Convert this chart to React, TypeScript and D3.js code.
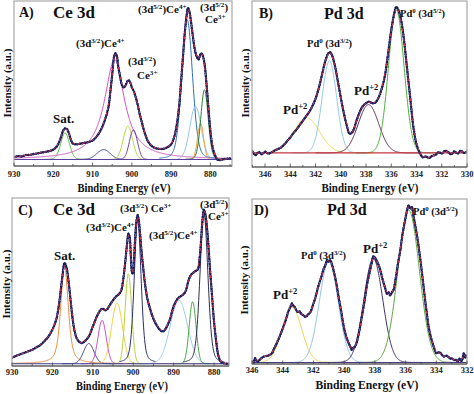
import { useEffect, useRef } from "react";
import * as d3 from "d3";

// ---------- A) Ce 3d (top left) ----------
const ceA_energy = [930, 929, 928, 927, 926, 925, 924, 923, 922, 921, 920, 919, 918, 917.5, 917, 916.5, 916, 915.5, 915, 914, 913, 912, 911, 910, 909, 908, 907, 906, 905.5, 905, 904.5, 904.2, 903.8, 903.5, 903, 902.5, 902, 901.5, 901, 900.7, 900.3, 900, 899.5, 899, 898.5, 898, 897.5, 897, 896.5, 896, 895, 894, 893, 892, 891, 890, 889.5, 889, 888.5, 888, 887.5, 887, 886.5, 886, 885.7, 885.3, 885, 884.5, 884, 883.5, 883, 882.6, 882.3, 882, 881.5, 881, 880.5, 880, 879.5, 879, 878.5, 878, 877, 876, 875];
const ceA_counts = [1.5, 2.2, 2, 2.9, 3, 3.6, 4, 4.6, 5, 5.6, 6.5, 9, 15, 19, 20.5, 20, 17, 13, 10.5, 10, 10.5, 11, 11.5, 12.5, 15, 19, 25, 34, 44, 56, 68, 70, 68, 62, 55, 49, 47.5, 49.5, 52, 52, 50, 47.5, 45, 41, 36, 30, 25, 20, 16, 12.5, 9, 7.5, 7, 7, 8, 10, 12.5, 17, 24, 34, 50, 67, 84, 96, 100, 97, 92, 82, 73, 68, 66, 69, 70, 69, 63, 50, 34, 19, 9, 4, 1, -0.4, 0, 0.4, 0.6];
const ceA_center = [917, 907.2, 904.4, 901, 899.6, 885.9, 883.8, 882.5, 881.5];
const ceA_height = [17.5, 6.5, 66, 22, 19.5, 92, 35, 24, 46];
const ceA_fwhm = [2.6, 4, 6.2, 2.8, 2.4, 3.2, 3.4, 1.8, 2.2];
const ceA_lorentz = [0.1, 0, 1, 0, 0, 0.2, 0, 0, 0.1];

// ---------- B) Pd 3d (top right) ----------
const pdB_energy = [347, 346.75, 346.5, 346.25, 346, 345.75, 345.5, 345.25, 345, 344.75, 344.5, 344.25, 344, 343.75, 343.5, 343.25, 343, 342.75, 342.5, 342.25, 342, 341.75, 341.5, 341.25, 341, 340.85, 340.7, 340.5, 340.25, 340, 339.75, 339.5, 339.3, 339.1, 339, 338.75, 338.5, 338.25, 338, 337.75, 337.5, 337.25, 337, 336.75, 336.5, 336.25, 336, 335.75, 335.6, 335.4, 335.2, 335, 334.75, 334.5, 334.25, 334, 333.75, 333.5, 333.25, 333, 332.75, 332.5, 332.25, 332, 331.75, 331.5, 331.25, 331, 330.75, 330.5, 330.25, 330];
const pdB_counts = [1, -1.5, 0.5, -1, 0.8, -0.5, 0.3, 1.5, 2.5, 3.5, 5.5, 8, 10.5, 13.5, 16, 19, 22, 25, 28, 32, 37, 44, 53, 62, 68, 69, 67, 61, 50, 38, 27, 18, 13, 14, 15.5, 22, 28, 32, 34, 35, 34, 34.5, 38, 44, 53, 68, 84, 96, 100, 97, 90, 78, 58, 38, 18, 6, 0, -3, -2.5, -3.5, -2, -1.5, 0.5, -0.5, 1.5, 0.5, -1, 1, -0.5, 1.5, 0, 0.8];
const pdB_center = [342.7, 340.9, 337.8, 335.6];
const pdB_height = [24, 63, 33, 98];
const pdB_fwhm = [2.4, 1.35, 1.9, 1.45];
const pdB_lorentz = [0, 0, 0, 0];

// ---------- C) Ce 3d (bottom left) ----------
const ceC_energy = [930, 929, 928, 927, 926, 925, 924, 923, 922, 921, 920, 919.5, 919, 918.5, 918, 917.5, 917, 916.5, 916, 915.5, 915, 914.5, 914, 913.5, 913, 912.5, 912, 911, 910, 909, 908.5, 908, 907.5, 907, 906.5, 906, 905, 904, 903.5, 903, 902.5, 902, 901.5, 901.2, 900.9, 900.6, 900.3, 900.1, 899.8, 899.5, 899.2, 898.9, 898.6, 898.3, 898, 897.5, 897, 896.5, 896, 895, 894, 893, 892.5, 892, 891, 890, 889, 888, 887.5, 887, 886.5, 886, 885.5, 885, 884.5, 884, 883.5, 883, 882.7, 882.5, 882.2, 882, 881.5, 881, 880.5, 880, 879.5, 879, 878.5, 878, 877, 876.3];
const ceC_counts = [3.8, 5, 6, 7, 8, 9, 10.5, 12, 14.5, 17.5, 22, 25, 29, 36, 46, 57, 65, 62, 53, 41, 29, 21, 16.5, 14.5, 13.5, 13.5, 14.5, 17.5, 24, 30.5, 33, 35, 35.5, 34.5, 35, 37, 41, 44, 45, 47, 54, 65, 78, 84, 82, 70, 59, 58, 68, 82, 92, 96, 92, 84, 74, 61, 50, 42, 37, 29, 24, 21, 21, 22.5, 28, 37, 42, 44, 45, 47, 52, 56, 58, 59, 60, 61, 70, 88, 97, 99.5, 97, 94, 80, 61, 44, 27, 15, 6, 2, 0.6, 0, 0];
const ceC_center = [917, 911, 907.7, 904, 901.2, 898.9, 888.7, 885.3, 882.5];
const ceC_height = [63, 13, 28, 39, 58, 93, 41, 40, 97];
const ceC_fwhm = [2.2, 3, 2.4, 3.2, 1.9, 2, 5, 2, 2.3];
const ceC_lorentz = [0.55, 0, 0, 0, 0, 0.3, 0, 0, 0.25];

// ---------- D) Pd 3d (bottom right) ----------
const pdD_energy = [346, 345.9, 345.8, 345.65, 345.5, 345.35, 345.2, 345, 344.85, 344.7, 344.6, 344.5, 344.35, 344.2, 344.1, 344, 343.8, 343.65, 343.5, 343.4, 343.3, 343.2, 343.1, 343, 342.9, 342.8, 342.65, 342.5, 342.35, 342.2, 342.1, 342, 341.85, 341.7, 341.5, 341.35, 341.2, 341.1, 341, 340.9, 340.8, 340.65, 340.5, 340.35, 340.2, 340.1, 340, 339.85, 339.7, 339.6, 339.5, 339.4, 339.3, 339.2, 339.1, 339, 338.85, 338.7, 338.5, 338.35, 338.2, 338.1, 338, 337.85, 337.7, 337.5, 337.35, 337.2, 337.1, 337, 336.9, 336.8, 336.65, 336.5, 336.35, 336.2, 336.1, 336, 335.9, 335.8, 335.7, 335.6, 335.5, 335.35, 335.2, 335.1, 335, 334.85, 334.7, 334.6, 334.5, 334.35, 334.2, 334.1, 334, 333.8, 333.6, 333.5, 333.3, 333.1, 333, 332.85, 332.7, 332.6, 332.5, 332.35, 332.2, 332.1, 332];
const pdD_counts = [0.6, -0.5, 2.7, 0.5, 1.7, 3, 3.8, 4.2, 4.8, 5.9, 8, 10, 13, 16.4, 19, 21.6, 27, 32, 35.3, 37.5, 36, 35, 33, 32, 32.5, 31, 30, 29, 30.5, 32, 34.5, 37.4, 42, 47.9, 54, 59, 62.6, 65.5, 64, 65, 62.6, 57, 50, 41, 33, 27, 21.6, 16, 12.2, 10, 8, 9.5, 10, 12.2, 16, 20.6, 29, 37.4, 50, 57, 63.6, 67.5, 66.8, 64, 60.5, 53, 48, 43.7, 44.5, 42.6, 44.5, 45.8, 53, 62.6, 71, 81.5, 87, 92, 97, 100, 98, 99, 94, 86, 77.3, 70, 62.6, 50, 37.4, 30, 22.7, 16, 11, 8, 5.9, 6.5, 4.5, 3.8, 4.2, 2.5, 2.7, 1.5, 1.7, 0.5, 2.3, 1, 5.9, 3, 4.8];
const pdD_center = [343.4, 341.0, 338.1, 335.8];
const pdD_height = [35, 64, 66, 97];
const pdD_fwhm = [1.5, 1.45, 1.45, 1.65];
const pdD_lorentz = [0, 0, 0, 0];

// tick values
const ceTicks = [930, 920, 910, 900, 890, 880];
const pdTicksB = [346, 344, 342, 340, 338, 336, 334, 332, 330];
const pdTicksD = [346, 344, 342, 340, 338, 336, 334, 332];

type Seg = [string, boolean?];
type Label = { x: number; y: number; size: number; segs: Seg[] };

// pseudo-Voigt line shape of a fitted component
const voigt = (e: number, c: number, h: number, w: number, eta: number) => {
  const t = (e - c) / w;
  return h * (eta / (1 + 4 * t * t) + (1 - eta) * Math.exp(-4 * Math.LN2 * t * t));
};

const serif = "'Liberation Serif', 'Times New Roman', serif";

const panels = [
  {
    id: "a", left: 14, right: 232, top: 1, bottom: 166,
    xDomain: [930, 874.5], yDomain: [-4.3, 104.5],
    ticks: ceTicks, minor: 5, tickY: 177,
    energy: ceA_energy, counts: ceA_counts,
    center: ceA_center, height: ceA_height, fwhm: ceA_fwhm, lorentz: ceA_lorentz,
    colors: ["#5cbb4c", "#3b3f8f", "#d24fc0", "#b9d53c", "#6b3fa3", "#2f6fb8", "#8cc6ea", "#f2a33a", "#2f7f3a"],
    baseColor: "#5a3fa0",
    yLabel: { x: 7, y: 83 }, xLabel: { x: 124, y: 192, w: 93 },
    labels: [
      { x: 19, y: 17, size: 14, segs: [["A)"]] },
      { x: 53, y: 18, size: 17, segs: [["Ce 3d"]] },
      { x: 76, y: 47, size: 11, segs: [["(3d"], ["3/2", true], [")Ce"], ["4+", true]] },
      { x: 128, y: 65, size: 11, segs: [["(3d"], ["3/2", true], [")"]] },
      { x: 137, y: 79, size: 11, segs: [["Ce"], ["3+", true]] },
      { x: 138, y: 13, size: 11, segs: [["(3d"], ["5/2", true], [")Ce"], ["4+", true]] },
      { x: 200, y: 11, size: 11, segs: [["(3d"], ["5/2", true], [")"]] },
      { x: 205, y: 23, size: 11, segs: [["Ce"], ["3+", true]] },
      { x: 53, y: 123, size: 13, segs: [["Sat."]] },
    ] as Label[],
  },
  {
    id: "b", left: 252, right: 467, top: 1, bottom: 167,
    xDomain: [347.03, 330], yDomain: [-9.7, 104],
    ticks: pdTicksB, minor: 1, tickY: 177,
    energy: pdB_energy, counts: pdB_counts,
    center: pdB_center, height: pdB_height, fwhm: pdB_fwhm, lorentz: pdB_lorentz,
    colors: ["#ecd84c", "#92c9ea", "#5a2a4c", "#4fae3c"],
    baseColor: "#c8343f",
    yLabel: { x: 245, y: 83 }, xLabel: { x: 370, y: 192, w: 97 },
    labels: [
      { x: 259, y: 18, size: 14, segs: [["B)"]] },
      { x: 324, y: 19, size: 16, segs: [["Pd 3d"]] },
      { x: 307, y: 47, size: 10.5, segs: [["Pd"], ["0", true], [" (3d"], ["3/2", true], [")"]] },
      { x: 283, y: 114, size: 13, segs: [["Pd"], ["+2", true]] },
      { x: 354, y: 95, size: 13, segs: [["Pd"], ["+2", true]] },
      { x: 400, y: 17, size: 10.5, segs: [["Pd"], ["0", true], [" (3d"], ["5/2", true], [")"]] },
    ] as Label[],
  },
  {
    id: "c", left: 12, right: 229, top: 198, bottom: 366,
    xDomain: [930, 876.3], yDomain: [-1.5, 107],
    ticks: ceTicks, minor: 5, tickY: 375,
    energy: ceC_energy, counts: ceC_counts,
    center: ceC_center, height: ceC_height, fwhm: ceC_fwhm, lorentz: ceC_lorentz,
    colors: ["#f08a3a", "#3b3f8f", "#c64fc0", "#f0d040", "#b6d43a", "#2a2f6a", "#9dcbee", "#4aa64a", "#2a2f50"],
    baseColor: "#3b3f8f",
    yLabel: { x: 6, y: 284 }, xLabel: { x: 122, y: 390, w: 92 },
    labels: [
      { x: 18, y: 215, size: 14, segs: [["C)"]] },
      { x: 53, y: 215, size: 17, segs: [["Ce 3d"]] },
      { x: 86, y: 231, size: 11, segs: [["(3d"], ["3/2", true], [")Ce"], ["4+", true]] },
      { x: 120, y: 212, size: 11, segs: [["(3d"], ["3/2", true], [") Ce"], ["3+", true]] },
      { x: 149, y: 239, size: 11, segs: [["(3d"], ["5/2", true], [")Ce"], ["4+", true]] },
      { x: 200, y: 208, size: 11, segs: [["(3d"], ["5/2", true], [")"]] },
      { x: 208, y: 220, size: 11, segs: [["Ce"], ["3+", true]] },
      { x: 54, y: 260, size: 13, segs: [["Sat."]] },
    ] as Label[],
  },
  {
    id: "d", left: 252, right: 467, top: 199, bottom: 364,
    xDomain: [346, 332], yDomain: [-1, 104],
    ticks: pdTicksD, minor: 1, tickY: 373,
    energy: pdD_energy, counts: pdD_counts,
    center: pdD_center, height: pdD_height, fwhm: pdD_fwhm, lorentz: pdD_lorentz,
    colors: ["#efd24a", "#8fc4e8", "#3a2f6a", "#5aa53c"],
    baseColor: "#4a3a80",
    yLabel: { x: 244, y: 280 }, xLabel: { x: 367, y: 389, w: 103 },
    labels: [
      { x: 254, y: 215, size: 14, segs: [["D)"]] },
      { x: 327, y: 215, size: 16, segs: [["Pd 3d"]] },
      { x: 301, y: 259, size: 10.5, segs: [["Pd"], ["0", true], [" (3d"], ["3/2", true], [")"]] },
      { x: 363, y: 253, size: 13, segs: [["Pd"], ["+2", true]] },
      { x: 273, y: 299, size: 13, segs: [["Pd"], ["+2", true]] },
      { x: 413, y: 215, size: 10.5, segs: [["Pd"], ["0", true], [" (3d"], ["5/2", true], [")"]] },
    ] as Label[],
  },
];

const App = () => {
  const svgRef = useRef<SVGSVGElement>(null);

  useEffect(() => {
    const svg = d3.select(svgRef.current);
    svg.selectAll("*").remove();

    panels.forEach((p) => {
      const x = d3.scaleLinear().domain(p.xDomain).range([p.left, p.right]);
      const y = d3.scaleLinear().domain(p.yDomain).range([p.bottom, p.top]);
      const lo = Math.min(p.xDomain[0], p.xDomain[1]);
      const hi = Math.max(p.xDomain[0], p.xDomain[1]);

      svg.append("clipPath").attr("id", "clip-" + p.id)
        .append("rect")
        .attr("x", p.left).attr("y", p.top)
        .attr("width", p.right - p.left).attr("height", p.bottom - p.top);

      const g = svg.append("g").attr("clip-path", `url(#clip-${p.id})`);
      const line = d3.line<[number, number]>().x((d) => x(d[0])).y((d) => y(d[1]));

      // fitted components
      const step = (hi - lo) / 600;
      p.center.forEach((c, i) => {
        const w = p.fwhm[i];
        const span = p.lorentz[i] > 0.5 ? hi - lo : w * 2.2;
        const grid = d3.range(Math.max(lo, c - span), Math.min(hi, c + span) + step, step);
        const pts = grid.map((e) => [e, voigt(e, c, p.height[i], w, p.lorentz[i])] as [number, number]);
        g.append("path").attr("d", line(pts)).attr("fill", "none")
          .attr("stroke", p.colors[i]).attr("stroke-width", 1);
      });

      // background
      g.append("path").attr("d", line([[lo, 0], [hi, 0]])).attr("fill", "none")
        .attr("stroke", p.baseColor).attr("stroke-width", 1.1);

      const pts = p.energy.map((e, i) => [e, p.counts[i]] as [number, number]);

      // experimental data
      g.append("path").attr("d", line.curve(d3.curveCatmullRom)(pts)).attr("fill", "none")
        .attr("stroke", "#2b3a92").attr("stroke-width", 1.9);
      g.append("path").attr("d", line.curve(d3.curveCatmullRom)(pts)).attr("fill", "none")
        .attr("stroke", "#161c55").attr("stroke-width", 2.4)
        .attr("stroke-linecap", "round").attr("stroke-dasharray", "0.1 2.4");

      // envelope fit
      g.append("path").attr("d", line.curve(d3.curveBasis)(pts)).attr("fill", "none")
        .attr("stroke", "#e8434f").attr("stroke-width", 0.9).attr("stroke-dasharray", "3 2");

      // frame and bottom axis
      svg.append("rect").attr("x", p.left).attr("y", p.top)
        .attr("width", p.right - p.left).attr("height", p.bottom - p.top)
        .attr("fill", "none").attr("stroke", "#a8a8a8").attr("stroke-width", 1.2);
      svg.append("line").attr("x1", p.left).attr("x2", p.right)
        .attr("y1", p.bottom).attr("y2", p.bottom)
        .attr("stroke", "#444").attr("stroke-width", 1.2);

      const minorTicks = d3.range(Math.ceil(lo / p.minor) * p.minor, hi + 0.001, p.minor);
      svg.append("g").selectAll("line").data(minorTicks).join("line")
        .attr("x1", (d) => x(d)).attr("x2", (d) => x(d))
        .attr("y1", p.bottom).attr("y2", (d) => p.bottom - (p.ticks.includes(d) ? 3.5 : 2))
        .attr("stroke", "#444").attr("stroke-width", 0.8);

      svg.append("g").selectAll("text").data(p.ticks).join("text")
        .attr("x", (d) => x(d)).attr("y", p.tickY)
        .attr("text-anchor", "middle")
        .attr("font-family", serif).attr("font-weight", "bold").attr("font-size", 8.5)
        .attr("fill", "#222").text((d) => d);

      svg.append("text")
        .attr("x", p.xLabel.x).attr("y", p.xLabel.y)
        .attr("text-anchor", "middle")
        .attr("font-family", serif).attr("font-weight", "bold").attr("font-size", 12.5)
        .attr("textLength", p.xLabel.w).attr("lengthAdjust", "spacingAndGlyphs")
        .attr("fill", "#111").text("Binding Energy (eV)");

      svg.append("text")
        .attr("transform", `translate(${p.yLabel.x},${p.yLabel.y}) rotate(-90)`)
        .attr("text-anchor", "middle").attr("dy", "0.35em")
        .attr("font-family", serif).attr("font-weight", "bold").attr("font-size", 11)
        .attr("fill", "#111").text("Intensity (a.u.)");

      // annotations
      p.labels.forEach((lab) => {
        const t = svg.append("text").attr("x", lab.x).attr("y", lab.y)
          .attr("font-family", serif).attr("font-weight", "bold")
          .attr("font-size", lab.size).attr("fill", "#111");
        let raised = false;
        lab.segs.forEach(([s, sup]) => {
          const shift = lab.size * 0.38;
          const ts = t.append("tspan").text(s);
          if (sup && !raised) { ts.attr("dy", -shift); raised = true; }
          else if (!sup && raised) { ts.attr("dy", shift); raised = false; }
          if (sup) ts.attr("font-size", lab.size * 0.65);
        });
      });
    });
  }, []);

  return (
    <svg
      ref={svgRef}
      width={474}
      height={394}
      style={{ position: "absolute", left: 0, top: 0, background: "#fff" }}
    />
  );
};

export default App;
